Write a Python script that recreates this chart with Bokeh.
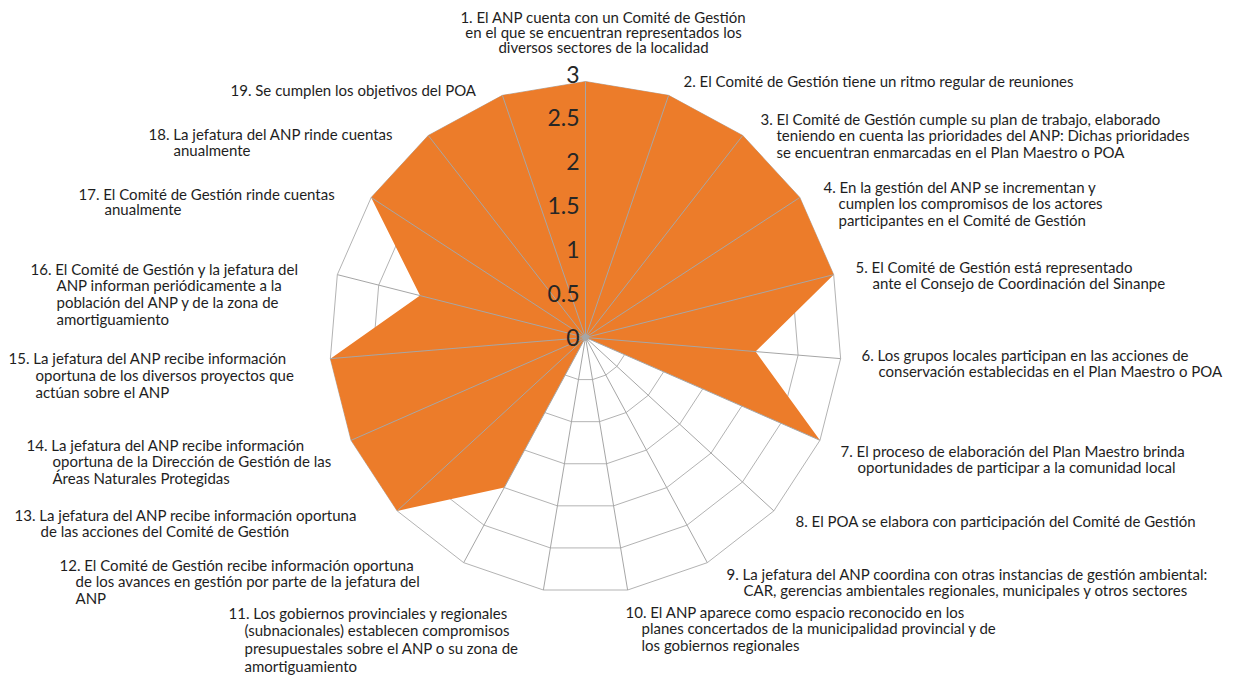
import math
from bokeh.plotting import figure
from bokeh.models import Range1d, ColumnDataSource
from bokeh.embed import file_html
from bokeh.resources import INLINE
from bokeh.core.properties import value

# ---------------- data ----------------
categories = [
    "1. El ANP cuenta con un Comité de Gestión\nen el que se encuentran representados los\ndiversos sectores de la localidad",
    "2. El Comité de Gestión tiene un ritmo regular de reuniones",
    "3. El Comité de Gestión cumple su plan de trabajo, elaborado\nteniendo en cuenta las prioridades del ANP: Dichas prioridades\nse encuentran enmarcadas en el Plan Maestro o POA",
    "4. En la gestión del ANP se incrementan y\ncumplen los compromisos de los actores\nparticipantes en el Comité de Gestión",
    "5. El Comité de Gestión está representado\nante el Consejo de Coordinación del Sinanpe",
    "6. Los grupos locales participan en las acciones de\nconservación establecidas en el Plan Maestro o POA",
    "7. El proceso de elaboración del Plan Maestro brinda\noportunidades de participar a la comunidad local",
    "8. El POA se elabora con participación del Comité de Gestión",
    "9. La jefatura del ANP coordina con otras instancias de gestión ambiental:\nCAR, gerencias ambientales regionales, municipales y otros sectores",
    "10. El ANP aparece como espacio reconocido en los\nplanes concertados de la municipalidad provincial y de\nlos gobiernos regionales",
    "11. Los gobiernos provinciales y regionales\n(subnacionales) establecen compromisos\npresupuestales sobre el ANP o su zona de\namortiguamiento",
    "12. El Comité de Gestión recibe información oportuna\nde los avances en gestión por parte de la jefatura del\nANP",
    "13. La jefatura del ANP recibe información oportuna\nde las acciones del Comité de Gestión",
    "14. La jefatura del ANP recibe información\noportuna de la Dirección de Gestión de las\nÁreas Naturales Protegidas",
    "15. La jefatura del ANP recibe información\noportuna de los diversos proyectos que\nactúan sobre el ANP",
    "16. El Comité de Gestión y la jefatura del\nANP informan periódicamente a la\npoblación del ANP y de la zona de\namortiguamiento",
    "17. El Comité de Gestión rinde cuentas\nanualmente",
    "18. La jefatura del ANP rinde cuentas\nanualmente",
    "19. Se cumplen los objetivos del POA",
]
values = [3, 3, 3, 3, 3, 2, 3, 0, 2, 0, 0, 2, 3, 3, 3, 2, 3, 3, 3]
ticks = [0, 0.5, 1, 1.5, 2, 2.5, 3]
tick_labels = ["0", "0.5", "1", "1.5", "2", "2.5", "3"]

# ---------------- layout (page pixels) ----------------
W, H = 1250, 677
CX, CY = 585.0, 337.0      # radar centre
R = 256.0                  # radius of the outer ring
VMAX = 3.0
label_layout = [  # x, y of first line, align, hanging indent, line height
    (603, 16, "center", 0, 15.2), (683, 80, "left", 0, 16.7), (760, 118, "left", 16, 16.7),
    (823, 186, "left", 15, 16.7), (855, 266, "left", 17, 16.7), (861, 354, "left", 17, 16.7),
    (840, 450, "left", 17, 16.7), (795, 520, "left", 0, 16.7), (726, 573, "left", 17, 16.7),
    (625, 611, "left", 16, 16.7), (228, 612, "left", 16, 17.8), (59, 564, "left", 16, 16.8),
    (14, 514, "left", 26, 16.7), (26, 444, "left", 26, 16.7), (8, 357, "left", 27, 17.3),
    (30, 268, "left", 26, 16.7), (78, 193, "left", 26, 15.5), (148, 133, "left", 25, 16.7),
    (230, 89, "left", 0, 16.7),
]
FONT = "Lato"

n = len(values)
ang = [2 * math.pi * i / n for i in range(n)]


def to_xy(v, a):
    r = v / VMAX * R
    return CX + r * math.sin(a), CY - r * math.cos(a)


p = figure(width=W, height=H, output_backend="svg", toolbar_location=None,
           x_range=Range1d(0, W), y_range=Range1d(H, 0), min_border=0)
p.axis.visible = False
p.grid.visible = False
p.outline_line_color = None
p.background_fill_color = "white"

# rings
rx, ry = [], []
for t in ticks[1:]:
    pts = [to_xy(t, a) for a in ang]
    pts.append(pts[0])
    rx.append([q[0] for q in pts])
    ry.append([q[1] for q in pts])
p.multi_line(rx, ry, line_color="#B3B3B3", line_width=1)

# filled series
sp = [to_xy(v, a) for v, a in zip(values, ang)]
p.patch([q[0] for q in sp], [q[1] for q in sp], fill_color="#EC7C2A",
        line_color=None)

# spokes
ends = [to_xy(VMAX, a) for a in ang]
p.segment([CX] * n, [CY] * n, [e[0] for e in ends], [e[1] for e in ends],
          line_color="#A6A6A6", line_width=1)
p.scatter([CX], [CY], size=6, color="#A6A6A6")

# radial tick labels
tx = [CX - 6] * len(ticks)
ty = [to_xy(t, 0)[1] - 2.5 * t for t in ticks]
p.text(tx, ty, text=tick_labels, text_align="right", text_baseline="middle",
       text_font=value(FONT), text_font_size="23px", text_color="#262626")

# category labels
xs, ys, txt, al = [], [], [], []
for lab, (lx, ly, align, ind, lh) in zip(categories, label_layout):
    for k, line in enumerate(lab.split("\n")):
        xs.append(lx + (ind if k > 0 else 0) if align == "left" else lx)
        ys.append(ly + k * lh)
        txt.append(line)
        al.append(align)
src = ColumnDataSource(dict(x=xs, y=ys, text=txt, align=al))
p.text("x", "y", text="text", source=src, text_align="align",
       text_baseline="middle", text_font=value(FONT), text_font_size="15px",
       text_color="#1E1E1E")

open("out.html", "w").write(file_html(p, INLINE))
